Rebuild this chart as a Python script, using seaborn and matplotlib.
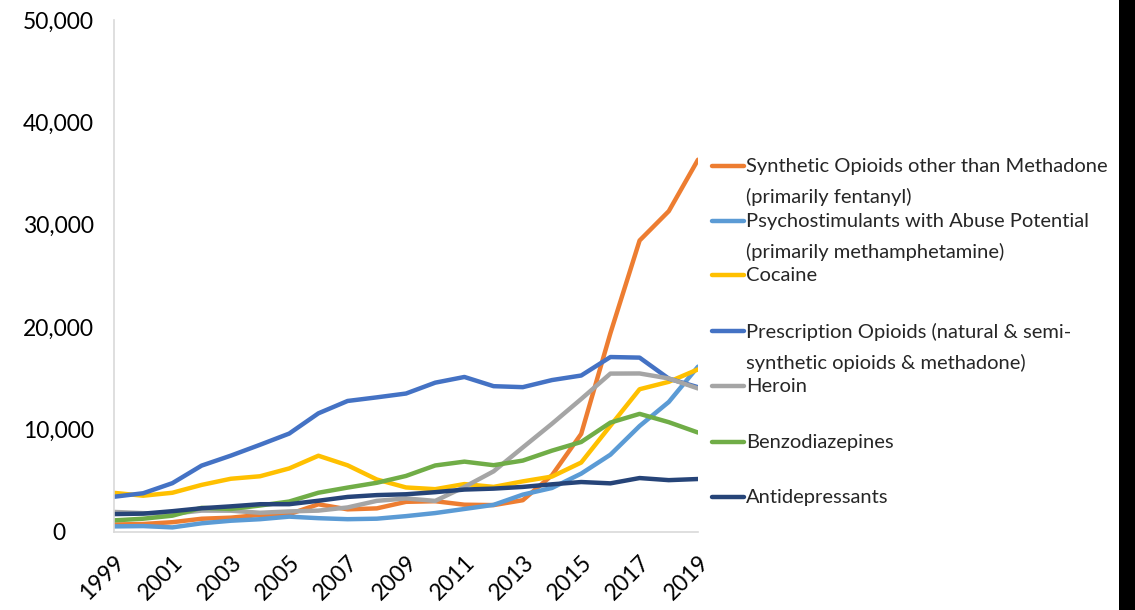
import matplotlib
matplotlib.use("Agg")
import matplotlib.pyplot as plt
from matplotlib.lines import Line2D
from matplotlib.patches import Rectangle
from matplotlib.ticker import FuncFormatter
import pandas as pd
import seaborn as sns

years = list(range(1999, 2020))

synthetic_opioids = [730, 782, 957, 1295, 1400, 1664, 1742, 2707, 2213, 2306, 2946,
                     3007, 2666, 2628, 3105, 5544, 9580, 19413, 28466, 31335, 36359]
psychostimulants = [547, 578, 450, 850, 1100, 1250, 1500, 1350, 1250, 1300, 1550,
                    1850, 2250, 2650, 3650, 4300, 5700, 7550, 10350, 12700, 16150]
cocaine = [3822, 3544, 3833, 4599, 5199, 5443, 6208, 7448, 6512, 5129, 4350,
           4183, 4681, 4404, 4944, 5415, 6784, 10375, 13942, 14666, 15883]
prescription_opioids = [3442, 3785, 4770, 6483, 7456, 8517, 9612, 11589, 12796, 13149, 13523,
                        14583, 15140, 14240, 14145, 14838, 15281, 17087, 17029, 14975, 14139]
heroin = [1960, 1842, 1779, 2089, 2080, 1878, 2009, 2088, 2399, 3041, 3278,
          3036, 4397, 5925, 8257, 10574, 12989, 15469, 15482, 14996, 14019]
benzodiazepines = [1135, 1298, 1594, 2358, 2248, 2586, 2976, 3835, 4337, 4807, 5475,
                   6497, 6872, 6524, 6973, 7945, 8791, 10684, 11537, 10724, 9711]
antidepressants = [1749, 1794, 2033, 2320, 2505, 2714, 2716, 3052, 3424, 3604, 3685,
                   3889, 4145, 4237, 4402, 4658, 4880, 4751, 5269, 5064, 5175]

series_names = [
    "Synthetic Opioids other than Methadone\n(primarily fentanyl)",
    "Psychostimulants with Abuse Potential\n(primarily methamphetamine)",
    "Cocaine",
    "Prescription Opioids (natural & semi-\nsynthetic opioids & methadone)",
    "Heroin",
    "Benzodiazepines",
    "Antidepressants",
]
series_values = [synthetic_opioids, psychostimulants, cocaine, prescription_opioids,
                 heroin, benzodiazepines, antidepressants]
series_colors = ["#ED7D31", "#5B9BD5", "#FFC000", "#4472C4", "#A5A5A5", "#70AD47", "#264478"]
tick_years = list(range(1999, 2020, 2))

rows = []
for name, vals in zip(series_names, series_values):
    for yr, v in zip(years, vals):
        rows.append({"Year": yr, "Deaths": v, "Series": name})
df = pd.DataFrame(rows)

sns.set_style("white")
plt.rcParams["font.family"] = ["Lato", "DejaVu Sans"]

W, H = 1135, 610
fig = plt.figure(figsize=(W / 100, H / 100), dpi=100)
ax = fig.add_axes([114 / W, (H - 532) / H, (698 - 114) / W, (532 - 20) / H])

sns.lineplot(data=df, x="Year", y="Deaths", hue="Series", hue_order=series_names,
             palette=series_colors, linewidth=3.2, legend=False, ax=ax)

ax.set_xlim(1999, 2019)
ax.set_ylim(0, 50000)
ax.set_yticks(range(0, 50001, 10000))
ax.yaxis.set_major_formatter(FuncFormatter(lambda v, p: f"{int(v):,}"))
ax.set_xticks(tick_years)
ax.set_xticklabels([str(y) for y in tick_years], rotation=45, ha="right",
                   rotation_mode="anchor")
ax.tick_params(axis="both", length=0, labelsize=16.5, colors="black")
ax.tick_params(axis="x", pad=14)
ax.tick_params(axis="y", pad=40)
for lbl in ax.get_yticklabels():
    lbl.set_horizontalalignment("center")
ax.set_xlabel("")
ax.set_ylabel("")
for side in ("top", "right"):
    ax.spines[side].set_visible(False)
for side in ("left", "bottom"):
    ax.spines[side].set_color("#d9d9d9")
    ax.spines[side].set_linewidth(1.2)

# legend drawn beside the plot, one entry per series
entry_y = [166, 221, 275, 331, 386, 442, 497]
for name, color, yp in zip(series_names, series_colors, entry_y):
    fy = 1 - yp / H
    fig.add_artist(Line2D([712 / W, 744 / W], [fy, fy], color=color, lw=3.2,
                          transform=fig.transFigure))
    fig.text(746 / W, 1 - (yp - 8) / H, name, ha="left", va="top", fontsize=14.5,
             linespacing=1.85)

# dark strip along the right edge
fig.add_artist(Rectangle((1119 / W, 0), 1 - 1119 / W, 1, transform=fig.transFigure,
                         color="black", lw=0))

fig.savefig("out.png", dpi=100)
